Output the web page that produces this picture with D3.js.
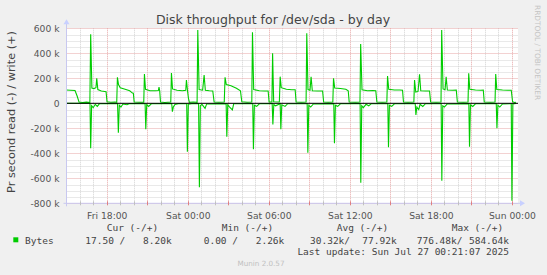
<!DOCTYPE html>
<html>
<head>
<meta charset="utf-8">
<script src="https://cdn.jsdelivr.net/npm/d3@7"></script>
<style>
  body { margin:0; background:#f0f0f0; }
  svg { display:block; }
  text { font-family:"DejaVu Sans", sans-serif; }
  .mono { font-family:"DejaVu Sans Mono", monospace; white-space:pre; }
</style>
</head>
<body>
<div id="chart"></div>
<script>
// hours are counted from Fri 25 Jul 2025 18:00, values in k (1000 bytes/s)
const xTickHours = [0, 6, 12, 18, 24, 30];
const xTickLabels = ["Fri 18:00", "Sat 00:00", "Sat 06:00", "Sat 12:00", "Sat 18:00", "Sun 00:00"];
const yTicks = [600, 400, 200, 0, -200, -400, -600, -800];
const yTickLabels = ["600 k", "400 k", "200 k", "0", "-200 k", "-400 k", "-600 k", "-800 k"];

// write (+)
const writeSeries = [
  [-2.98,106],[-2.7,104],[-2.35,102],[-2.2,60],[-2.05,10],[-1.8,6],[-1.5,9],[-1.25,6],
  [-1.19,552],[-1.1,122],[-0.95,118],[-0.8,125],[-0.74,200],[-0.66,110],[-0.4,98],[-0.15,95],[-0.05,93],[0.02,12],[0.3,8],[0.6,10],[0.74,8],
  [0.79,208],[0.87,150],[1.0,125],[1.3,115],[1.7,100],[1.9,82],[1.97,80],[2.03,10],[2.4,8],[2.74,9],
  [2.79,234],[2.87,112],[3.2,100],[3.6,100],[3.82,102],[3.87,130],[3.92,100],[3.98,10],[4.3,7],[4.74,10],
  [4.79,242],[4.87,115],[5.2,104],[5.6,100],[5.85,104],[5.9,186],[5.98,100],[6.05,40],[6.12,8],[6.4,10],[6.69,8],
  [6.74,586],[6.84,110],[7.1,105],[7.21,226],[7.3,104],[7.6,100],[7.85,98],[7.95,10],[8.3,8],[8.7,10],
  [8.76,208],[8.85,150],[9.2,140],[9.6,120],[9.9,100],[10.0,12],[10.4,8],[10.74,10],
  [10.79,568],[10.88,110],[11.3,100],[11.7,98],[11.95,98],[12.02,10],[12.23,10],[12.28,400],[12.36,12],[12.78,10],
  [12.84,213],[12.92,125],[13.3,112],[13.7,108],[13.95,108],[14.02,10],[14.4,8],[14.76,10],
  [14.81,560],[14.9,110],[15.05,105],[15.13,213],[15.22,100],[15.6,98],[15.98,98],[16.06,10],[16.4,8],[16.74,10],
  [16.79,200],[16.88,122],[17.3,118],[17.7,112],[17.88,100],[17.95,10],[18.4,8],[18.75,10],
  [18.8,474],[18.9,108],[19.3,100],[19.7,102],[19.92,100],[20.0,10],[20.4,8],[20.74,10],
  [20.79,218],[20.88,112],[21.3,106],[21.7,106],[21.9,104],[21.97,10],[22.3,8],[22.74,10],
  [22.79,186],[22.88,90],[23.05,95],[23.16,232],[23.25,100],[23.6,98],[23.9,98],[23.98,10],[24.4,8],[24.75,10],
  [24.8,586],[24.9,115],[25.05,108],[25.13,213],[25.22,106],[25.6,104],[25.88,106],[25.96,10],[26.4,8],[26.75,10],
  [26.8,240],[26.88,112],[27.3,106],[27.7,104],[27.88,106],[27.95,10],[28.4,8],[28.75,10],
  [28.8,234],[28.88,110],[29.3,106],[29.7,104],[29.95,104],[30.05,12],[30.2,6],[30.3,8]
];

// read (-), stored positive, drawn below zero
const readSeries = [
  [-2.98,0],[-1.3,0],[-1.24,4],[-1.19,360],[-1.12,20],[-1.0,35],[-0.85,8],[-0.7,25],[-0.55,4],[0.0,2],
  [0.8,3],[0.86,235],[0.93,15],[1.05,30],[1.2,6],[1.5,12],[1.7,2],
  [2.84,3],[2.89,208],[2.96,10],[3.1,25],[3.3,4],
  [4.81,2],[4.86,67],[4.93,30],[5.05,10],[5.3,3],
  [5.92,4],[5.97,387],[6.04,8],[6.3,4],
  [6.8,3],[6.86,672],[6.93,20],[7.05,8],[7.28,40],[7.4,5],
  [8.84,3],[8.89,267],[8.96,12],[9.1,30],[9.3,53],[9.4,4],
  [10.81,3],[10.86,368],[10.93,15],[11.1,25],[11.3,4],
  [12.25,3],[12.3,170],[12.37,10],[12.5,20],
  [12.84,3],[12.89,208],[12.96,12],[13.2,25],[13.4,3],
  [14.84,3],[14.89,395],[14.96,15],[15.1,30],[15.3,5],
  [16.81,3],[16.86,320],[16.93,15],[17.1,25],[17.3,4],
  [18.76,3],[18.81,635],[18.88,20],[19.0,35],[19.2,8],[19.4,20],[19.6,3],
  [20.81,3],[20.86,352],[20.93,15],[21.1,25],[21.3,4],
  [22.84,3],[22.89,94],[22.96,30],[23.1,50],[23.2,8],[23.4,25],[23.6,3],
  [24.76,3],[24.81,619],[24.88,20],[25.0,30],[25.2,6],
  [26.81,3],[26.86,347],[26.93,12],[27.1,25],[27.3,4],
  [28.84,3],[28.89,200],[28.96,15],[29.1,30],[29.3,5],
  [29.95,3],[30.0,779],[30.07,5],[30.3,2]
];

const legendHeaders = ["Cur (-/+)", "Min (-/+)", "Avg (-/+)", "Max (-/+)"];
const legendRead = ["17.50 /", "0.00 /", "30.32k/", "776.48k/"];
const legendWrite = ["8.20k", "2.26k", "77.92k", "584.64k"];
const lastUpdate = "Last update: Sun Jul 27 00:21:07 2025";

const W = 547, H = 275;
const plot = { left:66.5, right:518, top:28.3, bottom:203.3 };
const base = Date.UTC(2025, 6, 25, 18, 0, 0);
const toDate = h => new Date(base + h * 3600e3);

const svg = d3.select("#chart")
  .append("svg")
  .attr("width", W)
  .attr("height", H);

svg.append("rect").attr("width", W).attr("height", H).attr("fill", "#f0f0f0");

var x = d3.scaleUtc()
  .domain([toDate(-2.98), toDate(30.45)])
  .range([plot.left, plot.right]);

var y = d3.scaleLinear()
  .domain([-800, 600])
  .range([plot.bottom, plot.top]);

svg.append("rect")
  .attr("x", plot.left).attr("y", plot.top)
  .attr("width", plot.right - plot.left).attr("height", plot.bottom - plot.top)
  .attr("fill", "#ffffff");

// grid
var g = svg.append("g");
var hourTicks = d3.range(-2, 31);
g.selectAll("line.vx")
  .data(hourTicks)
  .enter().append("line")
  .attr("x1", d => Math.round(x(toDate(d))) + 0.5).attr("x2", d => Math.round(x(toDate(d))) + 0.5)
  .attr("y1", plot.top).attr("y2", plot.bottom)
  .attr("stroke", d => ((d % 3) + 3) % 3 == 0 ? "#e7a5a5" : "#d2d2d2")
  .attr("stroke-dasharray", "1,1");

var valueTicks = d3.range(-800, 601, 50);
g.selectAll("line.hy")
  .data(valueTicks)
  .enter().append("line")
  .attr("x1", plot.left).attr("x2", plot.right)
  .attr("y1", d => Math.round(y(d)) + 0.5).attr("y2", d => Math.round(y(d)) + 0.5)
  .attr("stroke", d => d % 200 == 0 ? "#e7a5a5" : "#d2d2d2")
  .attr("stroke-dasharray", "1,1");

// series
var line = d3.line()
  .x(d => x(toDate(d[0])))
  .y(d => y(d[1]));

svg.append("path")
  .datum(readSeries.map(d => [d[0], -d[1]]))
  .attr("d", line)
  .attr("fill", "none")
  .attr("stroke", "#00cc00")
  .attr("stroke-width", 1.1);

svg.append("path")
  .datum(writeSeries)
  .attr("d", line)
  .attr("fill", "none")
  .attr("stroke", "#00cc00")
  .attr("stroke-width", 1.1);

// zero line
svg.append("line")
  .attr("x1", plot.left).attr("x2", plot.right)
  .attr("y1", y(0)).attr("y2", y(0))
  .attr("stroke", "#000").attr("stroke-width", 1);

// axes lines + arrows
svg.append("line")
  .attr("x1", plot.left).attr("x2", plot.left)
  .attr("y1", plot.bottom + 3).attr("y2", plot.top - 5)
  .attr("stroke", "#c8c8f0");
svg.append("line")
  .attr("x1", plot.left - 3).attr("x2", plot.right + 3)
  .attr("y1", plot.bottom).attr("y2", plot.bottom)
  .attr("stroke", "#c8c8f0");
svg.append("path")
  .attr("d", `M${plot.left - 3},${plot.top - 4}L${plot.left + 3},${plot.top - 4}L${plot.left},${plot.top - 9}Z`)
  .attr("fill", "#c8d0ff");
svg.append("path")
  .attr("d", `M${plot.right + 2},${plot.bottom - 3}L${plot.right + 2},${plot.bottom + 3}L${plot.right + 7},${plot.bottom}Z`)
  .attr("fill", "#c8d0ff");

// x axis ticks
var xAxis = d3.axisBottom(x)
  .tickValues(xTickHours.map(toDate))
  .tickFormat((d, i) => xTickLabels[i])
  .tickSize(0)
  .tickPadding(9);
var xa = svg.append("g")
  .attr("transform", "translate(0," + plot.bottom + ")")
  .call(xAxis);
xa.select(".domain").remove();
xa.selectAll("text").attr("font-size", "9.2px").attr("fill", "#555").attr("font-family", "DejaVu Sans");

svg.append("g").selectAll("line")
  .data(hourTicks)
  .enter().append("line")
  .attr("x1", d => Math.round(x(toDate(d))) + 0.5).attr("x2", d => Math.round(x(toDate(d))) + 0.5)
  .attr("y1", plot.bottom - 2).attr("y2", plot.bottom + 2)
  .attr("stroke", d => ((d % 3) + 3) % 3 == 0 ? "#e08080" : "#c0c0c0");

// y axis ticks
var yAxis = d3.axisLeft(y)
  .tickValues(yTicks)
  .tickFormat((d, i) => yTickLabels[i])
  .tickSize(0)
  .tickPadding(7);
var ya = svg.append("g")
  .attr("transform", "translate(" + plot.left + ",0)")
  .call(yAxis);
ya.select(".domain").remove();
ya.selectAll("text").attr("font-size", "9.2px").attr("fill", "#555").attr("font-family", "DejaVu Sans");

// titles
svg.append("text")
  .text("Disk throughput for /dev/sda - by day")
  .attr("x", 273).attr("y", 24)
  .attr("text-anchor", "middle")
  .attr("font-size", "12.5px")
  .attr("fill", "#444");

svg.append("text")
  .text("Pr second read (-) / write (+)")
  .attr("transform", "translate(11,112)rotate(-90)")
  .attr("text-anchor", "middle")
  .attr("dominant-baseline", "central")
  .attr("font-size", "11.3px")
  .attr("fill", "#444");

svg.append("text")
  .text("RRDTOOL / TOBI OETIKER")
  .attr("transform", "translate(537.5,5)rotate(90)")
  .attr("dominant-baseline", "central")
  .attr("font-size", "7.4px")
  .attr("fill", "#c4c4c4");

// legend
var headX = [106.7, 221.7, 336.7, 451.7];
var readX = [85.3, 203.7, 310, 416.7];
var writeX = [171.7, 284.3, 396.7, 509];

svg.append("g").selectAll("text")
  .data(legendHeaders)
  .enter().append("text")
  .attr("class", "mono")
  .text(d => d)
  .attr("x", (d, i) => headX[i]).attr("y", 230.8)
  .attr("font-size", "9.5px").attr("fill", "#444");

svg.append("rect")
  .attr("x", 13.3).attr("y", 237.3).attr("width", 5).attr("height", 5)
  .attr("fill", "#00cc00");
svg.append("text").attr("class", "mono")
  .text("Bytes").attr("x", 25).attr("y", 243.5)
  .attr("font-size", "9.5px").attr("fill", "#444");

svg.append("g").selectAll("text")
  .data(legendRead)
  .enter().append("text")
  .attr("class", "mono")
  .text(d => d)
  .attr("x", (d, i) => readX[i]).attr("y", 243.5)
  .attr("font-size", "9.5px").attr("fill", "#444");

svg.append("g").selectAll("text")
  .data(legendWrite)
  .enter().append("text")
  .attr("class", "mono")
  .text(d => d)
  .attr("x", (d, i) => writeX[i]).attr("y", 243.5)
  .attr("text-anchor", "end")
  .attr("font-size", "9.5px").attr("fill", "#444");

svg.append("text").attr("class", "mono")
  .text(lastUpdate)
  .attr("x", 509).attr("y", 255)
  .attr("text-anchor", "end")
  .attr("font-size", "9.5px").attr("fill", "#444");

svg.append("text")
  .text("Munin 2.0.57")
  .attr("x", 261).attr("y", 266)
  .attr("text-anchor", "middle")
  .attr("font-size", "7.2px")
  .attr("fill", "#c0c0c0");
</script>
</body>
</html>
